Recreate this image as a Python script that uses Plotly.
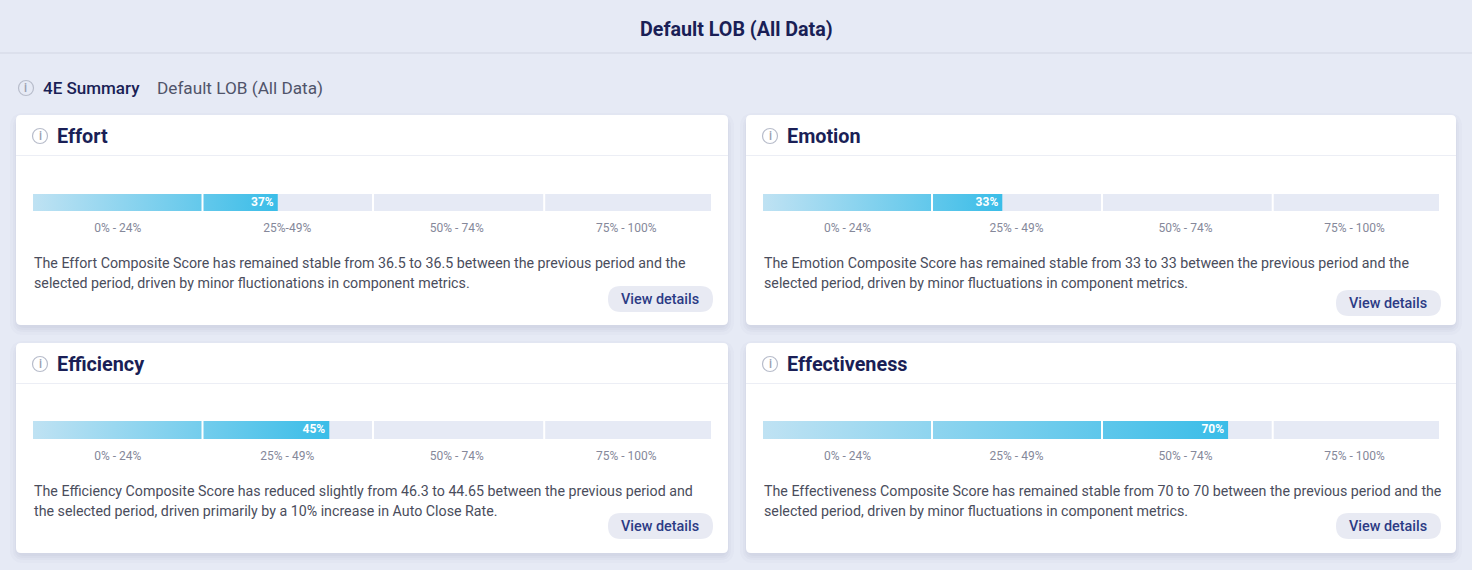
import plotly.graph_objects as go

# ---- data ----
page_title = "Default LOB (All Data)"
section_title = "4E Summary"
section_sub = "Default LOB (All Data)"
card_names = ["Effort", "Emotion", "Efficiency", "Effectiveness"]
score_labels = ["37%", "33%", "45%", "70%"]
fill_ends = [36.1, 35.4, 43.7, 68.8]
band_starts = [0, 25, 50.15, 75.4]
band_widths = [25, 25.15, 25.25, 24.6]
tick_positions = [12.5, 37.5, 62.5, 87.5]
effort_ticks = ["0% - 24%", "25%-49%", "50% - 74%", "75% - 100%"]
other_ticks = ["0% - 24%", "25% - 49%", "50% - 74%", "75% - 100%"]
card_ticks = [effort_ticks, other_ticks, other_ticks, other_ticks]
card_text = [
    ["The Effort Composite Score has remained stable from 36.5 to 36.5 between the previous period and the",
     "selected period, driven by minor fluctionations in component metrics."],
    ["The Emotion Composite Score has remained stable from 33 to 33 between the previous period and the",
     "selected period, driven by minor fluctuations in component metrics."],
    ["The Efficiency Composite Score has reduced slightly from 46.3 to 44.65 between the previous period and",
     "the selected period, driven primarily by a 10% increase in Auto Close Rate."],
    ["The Effectiveness Composite Score has remained stable from 70 to 70 between the previous period and the",
     "selected period, driven by minor fluctuations in component metrics."],
]
button_label = "View details"

# ---- layout constants (pixels) ----
W, H = 1472, 570
BG = "#E6EAF5"
NAVY = "#1A1F56"
cards_x = [(16, 728), (746, 1456), (16, 728), (746, 1456)]
cards_y = [(115, 325), (115, 325), (343, 553), (343, 553)]
bars_x = [(33, 711), (763, 1439), (33, 711), (763, 1439)]
bars_y = [(194, 211), (194, 211), (421, 439), (421, 439)]
btn_x = [(608, 713), (1336, 1441), (608, 713), (1336, 1441)]
btn_y = [(286, 312), (290, 316), (513, 539), (513, 539)]
FONT = "Roboto"


def px(x):
    return x / W


def py(y):
    return 1 - y / H


def rrect(x0, y0, x1, y1, r):
    a, b, c, d = px(x0), px(x1), py(y0), py(y1)
    rx, ry = r / W, r / H
    return (f"M{a+rx},{c} L{b-rx},{c} Q{b},{c} {b},{c-ry} L{b},{d+ry} Q{b},{d} {b-rx},{d} "
            f"L{a+rx},{d} Q{a},{d} {a},{d+ry} L{a},{c-ry} Q{a},{c} {a+rx},{c} Z")


shapes, annos = [], []


def text(x, y, s, size, color, weight=400, anchor="left"):
    annos.append(dict(x=px(x), y=py(y), xref="paper", yref="paper", text=s, showarrow=False,
                      xanchor=anchor, yanchor="middle", align=anchor,
                      font=dict(family=FONT, size=size, color=color, weight=weight),
                      borderpad=0, borderwidth=0))


def path(d, fill, line=None, layer="below"):
    shapes.append(dict(type="path", path=d, xref="paper", yref="paper", fillcolor=fill,
                       line=dict(width=0 if line is None else 1, color=line or fill), layer=layer))


def info(cx, cy):
    shapes.append(dict(type="circle", xref="paper", yref="paper",
                       x0=px(cx - 7.5), x1=px(cx + 7.5), y0=py(cy + 7.5), y1=py(cy - 7.5),
                       line=dict(color="#B8BDCB", width=1.2), fillcolor="rgba(0,0,0,0)", layer="below"))
    text(cx, cy, "i", 12, "#9A9FB0", 500, "center")


# top band divider
shapes.append(dict(type="rect", xref="paper", yref="paper", x0=0, x1=1, y0=py(54), y1=py(52),
                   fillcolor="#DCE0EC", line=dict(width=0), layer="below"))
text(W / 2, 29.5, page_title, 19.7, NAVY, 700, "center")
info(26, 88)
text(43, 88, section_title, 17, NAVY, 500)
text(157, 88, section_sub, 17.2, "#50546A")

fig = go.Figure()
layout_axes = {}

for i, name in enumerate(card_names):
    x0, x1 = cards_x[i]
    y0, y1 = cards_y[i]
    # soft shadow
    for grow, alpha in [(8, 0.05), (5, 0.06), (3, 0.07), (1, 0.08)]:
        path(rrect(x0 - grow + 2, y0 + 6 - grow, x1 + grow - 2, y1 + 2 + grow, 6 + grow),
             f"rgba(150,160,190,{alpha})")
    path(rrect(x0, y0, x1, y1, 5), "#FFFFFF")
    shapes.append(dict(type="line", xref="paper", yref="paper", x0=px(x0), x1=px(x1),
                       y0=py(y0 + 40.5), y1=py(y0 + 40.5), line=dict(color="#ECEEF5", width=1.2), layer="below"))
    info(x0 + 24, y0 + 21)
    text(x0 + 41, y0 + 21.5, name, 19.8, NAVY, 700)

    # description
    text(x0 + 18, y0 + 148, card_text[i][0], 14.23, "#4A4D5C")
    text(x0 + 18, y0 + 168, card_text[i][1], 14.23, "#4A4D5C")

    # button
    bx0, bx1 = btn_x[i]
    by0, by1 = btn_y[i]
    path(rrect(bx0, by0, bx1, by1, 13), "#E8EAF3")
    text((bx0 + bx1) / 2 - 0.5, (by0 + by1) / 2, button_label, 14.4, "#2C3B85", 500, "center")

    # bar on its own axis pair
    suf = "" if i == 0 else str(i + 1)
    xa, ya = f"x{suf}", f"y{suf}"
    layout_axes[f"xaxis{suf}"] = dict(
        domain=[px(bars_x[i][0]), px(bars_x[i][1])], range=[0, 100], anchor=ya, fixedrange=True,
        showgrid=False, zeroline=False, showline=False,
        tickmode="array", tickvals=tick_positions,
        ticktext=card_ticks[i], ticks="outside", ticklen=6, tickcolor="rgba(0,0,0,0)",
        tickfont=dict(family=FONT, size=12, color="#85889A"))
    layout_axes[f"yaxis{suf}"] = dict(
        domain=[py(bars_y[i][1]), py(bars_y[i][0])], range=[0, 1], anchor=xa, fixedrange=True,
        showgrid=False, zeroline=False, showline=False, showticklabels=False, ticks="")

    fig.add_trace(go.Bar(x=band_widths, y=[0.5] * 4, base=band_starts, orientation="h", width=1,
                         marker=dict(color=BG, line=dict(width=0)), xaxis=xa, yaxis=ya,
                         showlegend=False, hoverinfo="skip"))
    end = fill_ends[i]
    fig.add_trace(go.Scatter(x=[0, end, end, 0, 0], y=[0, 0, 1, 1, 0], mode="lines", fill="toself",
                             line=dict(width=0),
                             fillgradient=dict(type="horizontal",
                                               colorscale=[[0, "#BFE2F3"], [1, "#3ABDE8"]]),
                             xaxis=xa, yaxis=ya, showlegend=False, hoverinfo="skip"))
    fig.add_trace(go.Scatter(x=[end - 0.6], y=[0.5], mode="text", text=[score_labels[i]],
                             textposition="middle left",
                             textfont=dict(family=FONT, size=12, color="#FFFFFF", weight=700),
                             xaxis=xa, yaxis=ya, showlegend=False, hoverinfo="skip"))
    for s in band_starts[1:]:
        shapes.append(dict(type="line", xref=xa, yref=ya, x0=s, x1=s, y0=0, y1=1,
                           line=dict(color="#FFFFFF", width=2), layer="above"))

fig.update_layout(
    width=W, height=H, margin=dict(l=0, r=0, t=0, b=0, pad=0),
    paper_bgcolor=BG, plot_bgcolor="rgba(0,0,0,0)", showlegend=False, barmode="overlay",
    font=dict(family=FONT), shapes=shapes, annotations=annos, **layout_axes)

fig.write_html("out.html", config=dict(displayModeBar=False),
               post_script="document.body.style.margin='0';document.body.style.background='#E6EAF5';")
